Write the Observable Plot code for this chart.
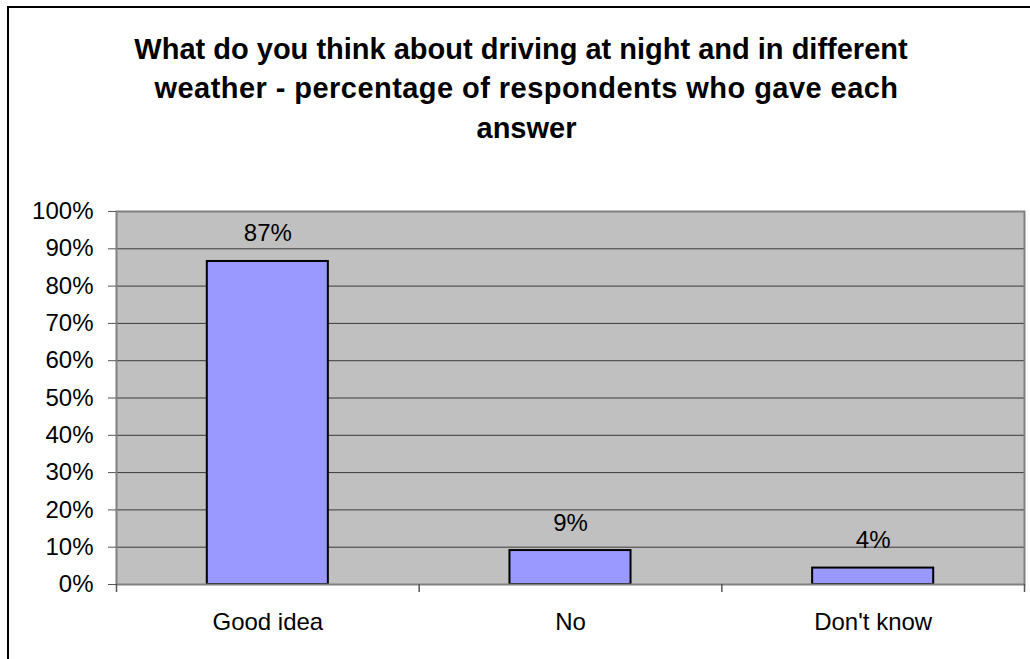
<!DOCTYPE html>
<html>
<head>
<meta charset="utf-8">
<script src="https://cdn.jsdelivr.net/npm/d3@7"></script>
<script src="https://cdn.jsdelivr.net/npm/@observablehq/plot@0.6"></script>
<style>
  html, body { margin: 0; padding: 0; background: #fff; overflow: hidden; }
  #wrap { position: relative; width: 1030px; height: 659px; overflow: hidden; background: #fff; }
  #border { position: absolute; left: 7px; top: 6px; width: 1100px; height: 700px;
            border-left: 2px solid #000; border-top: 2px solid #000; box-sizing: border-box; }
  #title { position: absolute; left: 0; width: 1050px; top: 29.5px; text-align: center;
           font-family: "Liberation Sans", Arial, sans-serif; font-weight: bold; font-size: 29px;
           line-height: 39.5px; color: #000; }
  #title div { white-space: nowrap; }
  #chart { position: absolute; left: 0; top: 0; }
</style>
</head>
<body>
<div id="wrap">
  <div id="border"></div>
  <div id="chart"></div>
  <div id="title">
    <div style="margin-right:8px">What do you think about driving at night and in different</div>
    <div style="letter-spacing:0.45px; margin-left:3px">weather - percentage of respondents who gave each</div>
    <div style="margin-left:3px">answer</div>
  </div>
</div>
<script>
const categories = ["Good idea", "No", "Don't know"];
const values = [0.866, 0.091, 0.044];
const valueLabels = ["87%", "9%", "4%"];
const yTicks = [0, 0.1, 0.2, 0.3, 0.4, 0.5, 0.6, 0.7, 0.8, 0.9, 1];
const gridTicks = [0.1, 0.2, 0.3, 0.4, 0.5, 0.6, 0.7, 0.8, 0.9];

const data = categories.map((c, i) => ({cat: c, value: values[i], label: valueLabels[i]}));

const W = 1030, H = 659;
const mL = 116, mR = 6, mT = 211, mB = 75;
const step = (W - mL - mR) / categories.length;

const plot = Plot.plot({
  width: W,
  height: H,
  marginLeft: mL,
  marginRight: mR,
  marginTop: mT,
  marginBottom: mB,
  style: {fontFamily: "'Liberation Sans', Arial, sans-serif", background: "transparent", color: "#000"},
  x: {domain: categories, paddingInner: 0.6, paddingOuter: 0.3, round: false, label: null},
  y: {domain: [0, 1], label: null},
  marks: [
    Plot.frame({fill: "#c0c0c0", stroke: "none"}),
    Plot.ruleY(gridTicks, {stroke: "#3a3a3a", strokeWidth: 1}),
    Plot.barY(data, {x: "cat", y: "value", fill: "#9999ff", stroke: "#000", strokeWidth: 2}),
    Plot.text(data, {x: "cat", y: "value", text: "label", lineAnchor: "bottom", dy: -20, fontSize: 24, fill: "#000"}),
    Plot.frame({stroke: "#808080", strokeWidth: 2}),
    Plot.axisY({ticks: yTicks, tickFormat: d3.format(".0%"), tickSize: 8, tickPadding: 15, fontSize: 24, stroke: "#555", fill: "#000", label: null}),
    Plot.axisX({tickSize: 0, tickPadding: 28, fontSize: 24, fill: "#000", label: null}),
    Plot.ruleX(categories, {x: d => d, y1: 0, y2: 0, insetBottom: -8, dx: -step / 2, stroke: "#555", strokeWidth: 1.5}),
    Plot.ruleX(categories.slice(-1), {x: d => d, y1: 0, y2: 0, insetBottom: -8, dx: step / 2, stroke: "#555", strokeWidth: 1.5})
  ]
});
document.getElementById("chart").appendChild(plot);
</script>
</body>
</html>
